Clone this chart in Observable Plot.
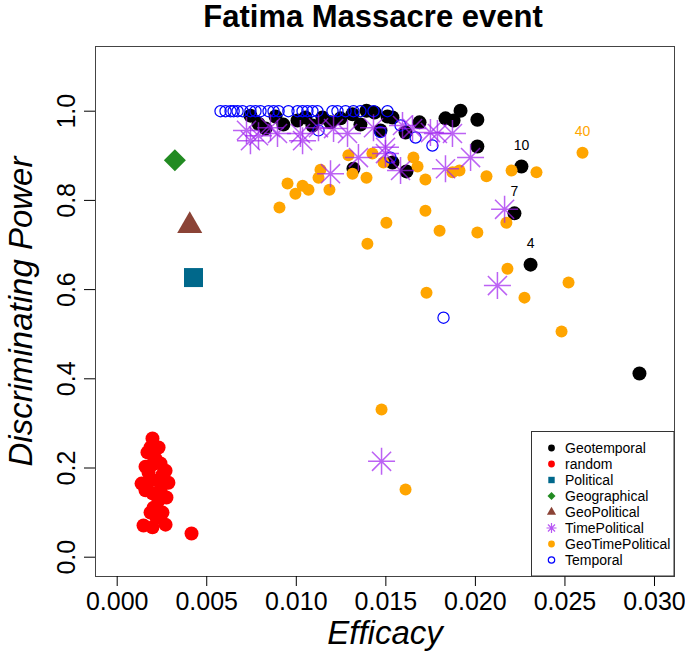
<!DOCTYPE html>
<html><head><meta charset="utf-8">
<script src="https://cdn.jsdelivr.net/npm/d3@7"></script>
<script src="https://cdn.jsdelivr.net/npm/@observablehq/plot@0.6"></script>
<style>
body{margin:0;background:#fff;}
#chart{position:relative;width:685px;height:652px;}
</style>
</head><body><div id="chart"></div>
<script>
// ---- data (Efficacy, Discriminating Power) ----
const geotemporal = [[0.00744,0.990],[0.00789,0.972],[0.00828,0.961],[0.00884,0.988],[0.00928,0.970],[0.01007,0.979],[0.01051,0.986],[0.01090,0.968],[0.01146,0.986],[0.01191,0.975],[0.01247,0.984],[0.01314,0.993],[0.01358,0.970],[0.01392,1.001],[0.01437,0.997],[0.01470,0.957],[0.01509,0.988],[0.01537,0.986],[0.01610,0.952],[0.01688,0.975],[0.01833,0.984],[0.01878,0.979],[0.01917,1.001],[0.02011,0.981],[0.02011,0.921],[0.01537,0.885],[0.01615,0.865],[0.01319,0.871],[0.02257,0.876],[0.02218,0.771],[0.02308,0.656],[0.02916,0.412]];
const random = [[0.00197,0.266],[0.00186,0.246],[0.00231,0.246],[0.00169,0.235],[0.00214,0.221],[0.00158,0.203],[0.00197,0.208],[0.00242,0.210],[0.00270,0.194],[0.00175,0.190],[0.00136,0.165],[0.00186,0.172],[0.00225,0.172],[0.00286,0.167],[0.00253,0.185],[0.00158,0.150],[0.00197,0.143],[0.00242,0.150],[0.00275,0.134],[0.00231,0.127],[0.00203,0.111],[0.00253,0.100],[0.00186,0.100],[0.00147,0.071],[0.00197,0.067],[0.00270,0.073],[0.00219,0.089],[0.00415,0.053]];
const political = [[0.00426,0.627]];
const geographical = [[0.00322,0.890]];
const geoPolitical = [[0.00405,0.743]];
const timePolitical = [[0.00722,0.957],[0.00744,0.934],[0.00789,0.945],[0.00856,0.963],[0.00895,0.950],[0.01023,0.950],[0.01035,0.934],[0.01124,0.963],[0.01208,0.961],[0.01286,0.950],[0.01347,0.896],[0.01431,0.963],[0.01498,0.919],[0.01498,0.905],[0.01191,0.860],[0.01593,0.968],[0.01649,0.961],[0.01749,0.952],[0.01788,0.950],[0.01872,0.950],[0.01582,0.867],[0.01833,0.871],[0.01973,0.896],[0.02163,0.780],[0.02123,0.609],[0.01476,0.215]];
const geoTimePolitical = [[0.00906,0.784],[0.00951,0.838],[0.00995,0.815],[0.01035,0.833],[0.01068,0.824],[0.01124,0.851],[0.01135,0.869],[0.01185,0.824],[0.01291,0.901],[0.01314,0.860],[0.01392,0.851],[0.01425,0.905],[0.01487,0.885],[0.01654,0.896],[0.01677,0.876],[0.01721,0.847],[0.01872,0.863],[0.01911,0.867],[0.02062,0.854],[0.02202,0.867],[0.02341,0.863],[0.02598,0.907],[0.01503,0.750],[0.01397,0.703],[0.01721,0.777],[0.01800,0.732],[0.02011,0.728],[0.02173,0.750],[0.02179,0.647],[0.02274,0.582],[0.02520,0.616],[0.01727,0.593],[0.02481,0.506],[0.01476,0.331],[0.01610,0.152]];
const temporal = [[0.00577,1.0],[0.00605,1.0],[0.00633,1.0],[0.00650,1.0],[0.00672,1.0],[0.00700,1.0],[0.00744,1.0],[0.00772,1.0],[0.00800,1.0],[0.00845,1.0],[0.00873,1.0],[0.00901,1.0],[0.00956,1.0],[0.01007,1.0],[0.01035,1.0],[0.01062,1.0],[0.01090,1.0],[0.01118,1.0],[0.01202,1.0],[0.01230,1.0],[0.01275,1.0],[0.01319,1.0],[0.01358,1.0],[0.01431,1.0],[0.01509,1.0],[0.01124,0.957],[0.01470,0.953],[0.01526,0.896],[0.01666,0.941],[0.01760,0.923],[0.01582,0.968],[0.01822,0.537]];
const pointLabels = [["10",0.02257,0.876,"#000"],["7",0.02218,0.771,"#000"],["4",0.02308,0.656,"#000"],["40",0.02598,0.907,"#FFA500"]];
const xTicks = [0,0.005,0.010,0.015,0.020,0.025,0.030];
const yTicks = [0,0.2,0.4,0.6,0.8,1.0];
const legendNames = ["Geotemporal","random","Political","Geographical","GeoPolitical","TimePolitical","GeoTimePolitical","Temporal"];

// ---- custom R-like symbols ----
const rad = s => Math.sqrt(s/Math.PI);
const asterisk = {draw(c,s){const a=rad(s),d=a/Math.SQRT2;c.moveTo(-a,0);c.lineTo(a,0);c.moveTo(0,-a);c.lineTo(0,a);c.moveTo(-d,-d);c.lineTo(d,d);c.moveTo(-d,d);c.lineTo(d,-d);}};
const triangle = {draw(c,s){const k=rad(s);c.moveTo(0,-1.555*k);c.lineTo(1.347*k,0.778*k);c.lineTo(-1.347*k,0.778*k);c.closePath();}};
const diamond = {draw(c,s){const r=rad(s);c.moveTo(0,-r);c.lineTo(r,0);c.lineTo(0,r);c.lineTo(-r,0);c.closePath();}};
const square = {draw(c,s){const r=rad(s);c.rect(-r,-r,2*r,2*r);}};

const X = d=>d[0], Y = d=>d[1];
const FONT = "'Liberation Sans', Arial, Helvetica, sans-serif";

const plot = Plot.plot({
  width: 685, height: 652,
  marginLeft: 95, marginRight: 11, marginTop: 46, marginBottom: 76,
  style: {fontFamily: FONT, background: "#fff", color: "#000"},
  x: {domain: [-0.0012116, 0.031117]},
  y: {domain: [-0.04327, 1.14507]},
  marks: [
    Plot.frame({stroke: "#444"}),
    Plot.axisX({ticks: xTicks, tickFormat: d3.format(".3f"), tickSize: 10, tickPadding: 6, fontSize: 25, label: null}),
    Plot.axisY({ticks: yTicks, tickFormat: d3.format(".1f"), tickSize: 11, tickPadding: 10, tickRotate: -90, fontSize: 25, label: null}),
    Plot.text(["Fatima Massacre event"], {frameAnchor: "top", dx: -12, dy: -20, lineAnchor: "bottom", fontSize: 31, fontWeight: "bold"}),
    Plot.text(["Efficacy"], {frameAnchor: "bottom", dy: 67, lineAnchor: "bottom", fontSize: 33, fontStyle: "italic"}),
    Plot.text(["Discriminating Power"], {frameAnchor: "left", dx: -64, rotate: -90, lineAnchor: "bottom", textAnchor: "middle", fontSize: 33, fontStyle: "italic"}),
    Plot.dot(geotemporal, {x: X, y: Y, r: 7, fill: "#000"}),
    Plot.dot(random, {x: X, y: Y, r: 7, fill: "#FF0000"}),
    Plot.dot(geoTimePolitical, {x: X, y: Y, r: 6, fill: "#FFA500"}),
    Plot.dot(temporal, {x: X, y: Y, r: 5.6, fill: "none", stroke: "#0000FF", strokeWidth: 1.2}),
    Plot.dot(timePolitical, {x: X, y: Y, r: 13.5, symbol: asterisk, fill: "none", stroke: "#A020F0", strokeOpacity: 0.7, strokeWidth: 1.5}),
    Plot.dot(political, {x: X, y: Y, r: 9.5, symbol: square, fill: "#00688B", stroke: "none"}),
    Plot.dot(geographical, {x: X, y: Y, r: 11, symbol: diamond, fill: "#228B22", stroke: "none"}),
    Plot.dot(geoPolitical, {x: X, y: Y, r: 9.3, symbol: triangle, fill: "#8B4336", stroke: "none"}),
    Plot.text(pointLabels, {x: d=>d[1], y: d=>d[2], text: d=>d[0], fill: d=>d[3], dy: -17, lineAnchor: "bottom", fontSize: 14})
  ]
});
document.getElementById("chart").appendChild(plot);

// ---- legend (R style box, bottom-right) ----
const svg = d3.select(plot);
const lg = svg.append("g").attr("font-family", FONT).attr("text-anchor", "start");
lg.append("rect").attr("x", 531.5).attr("y", 431.5).attr("width", 142.5).attr("height", 144.5)
  .attr("fill", "#fff").attr("stroke", "#333").attr("stroke-width", 1);
const legendStyle = [
  {sym: d3.symbolCircle, r: 3.4, fill: "#000"},
  {sym: d3.symbolCircle, r: 3.4, fill: "#FF0000"},
  {sym: square, r: 3.2, fill: "#00688B"},
  {sym: diamond, r: 4, fill: "#228B22"},
  {sym: triangle, r: 3.4, fill: "#8B4336"},
  {sym: asterisk, r: 5, stroke: "#A020F0"},
  {sym: d3.symbolCircle, r: 3.4, fill: "#FFA500"},
  {sym: d3.symbolCircle, r: 3.2, stroke: "#0000FF"}
];
legendNames.forEach((name, i) => {
  const cy = 448 + i * 16.0;
  const st = legendStyle[i];
  lg.append("path").attr("transform", `translate(551.5,${cy})`)
    .attr("d", d3.symbol(st.sym, st.r * st.r * Math.PI)())
    .attr("fill", st.fill || "none").attr("stroke", st.stroke || "none")
    .attr("stroke-width", st.stroke ? 1.2 : 0).attr("stroke-opacity", i === 5 ? 0.75 : 1);
  lg.append("text").attr("x", 565).attr("y", cy).attr("dy", "0.35em")
    .attr("text-anchor", "start")
    .attr("font-size", 14).attr("fill", "#000").text(name);
});
</script>
</body></html>
